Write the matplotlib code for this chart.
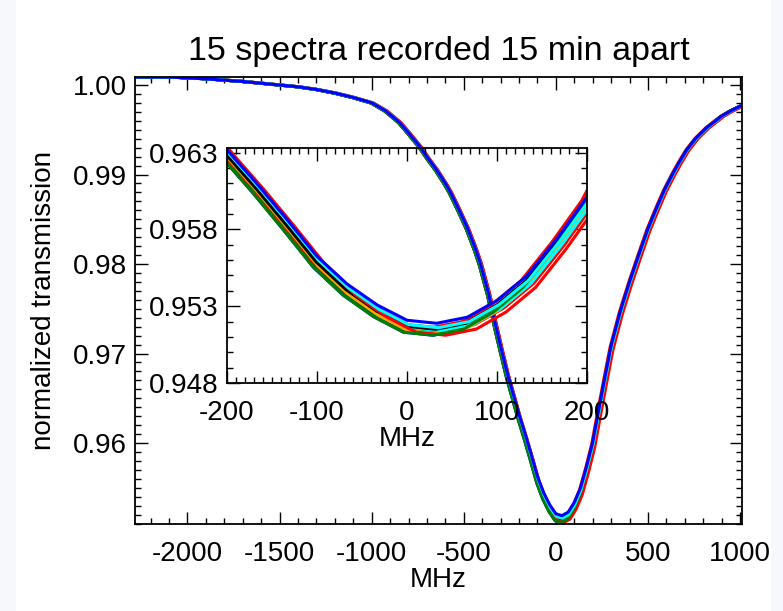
import numpy as np
import matplotlib
matplotlib.use("Agg")
import matplotlib.pyplot as plt
from matplotlib.ticker import MultipleLocator, FormatStrFormatter
from matplotlib.patches import Rectangle

plt.rcParams['font.family'] = ['Liberation Sans', 'DejaVu Sans']
plt.rcParams['axes.unicode_minus'] = False

# frequency grid (MHz) and mean transmission
freq = np.array([-2285, -2100, -1900, -1700, -1500, -1400, -1300, -1200,
                 -1100, -1000, -925, -850, -800, -740, -700, -650, -600,
                 -575, -530, -483, -440, -412, -367, -333, -300, -267, -233,
                 -200, -167, -133, -100, -67, -33, 0, 33, 67, 100, 133, 167,
                 200, 233, 267, 300, 350, 400, 456, 500, 548, 590, 635, 670,
                 711, 760, 819, 900, 950, 1010])
transmission = np.array([1.0009, 1.0009, 1.0007, 1.0004, 1.0000, 0.9998,
                         0.9995, 0.9991, 0.9986, 0.9980, 0.9971, 0.9958,
                         0.9946, 0.9931, 0.9919, 0.9905, 0.9889, 0.9880,
                         0.9861, 0.9840, 0.9817, 0.9800, 0.9766, 0.9734,
                         0.9705, 0.9677, 0.9652, 0.9628, 0.9606, 0.9582,
                         0.9558, 0.9540, 0.9526, 0.9516, 0.9514, 0.9518,
                         0.9529, 0.9545, 0.9570, 0.9597, 0.9634, 0.9671,
                         0.9706, 0.9745, 0.9778, 0.9812, 0.9838, 0.9862,
                         0.9882, 0.9900, 0.9913, 0.9927, 0.9940, 0.9952,
                         0.9965, 0.9971, 0.9977])

# the 15 spectra: colour, frequency drift (MHz) and relative line depth
spectrum_colors = ['red', 'green', 'black', 'orange', 'cyan', 'blue', 'red',
                   'green', 'orange', 'cyan', 'black', 'red', 'green',
                   'cyan', 'blue']
spectrum_shift = [8, -3, 0, 3, 4, -4, -6, -2, 1, 5, -1, 10, -4, 2, 0]
spectrum_depth = [1.000, 1.004, 0.996, 1.002, 0.998, 1.006, 0.996, 1.000,
                  1.004, 1.000, 0.998, 1.006, 1.006, 0.996, 0.990]

main_yticks = [0.96, 0.97, 0.98, 0.99, 1.00]
inset_yticks = [0.948, 0.953, 0.958, 0.963]


def style_axes(ax, fmt):
    ax.tick_params(which='both', direction='in', top=True, right=True,
                   width=1.0, labelsize=20, colors='black')
    ax.tick_params(which='major', length=9)
    ax.tick_params(which='minor', length=4.5)
    ax.yaxis.set_major_formatter(FormatStrFormatter(fmt))
    for s in ax.spines.values():
        s.set_linewidth(1.3)


def draw_spectra(ax):
    for c, sh, d in zip(spectrum_colors, spectrum_shift, spectrum_depth):
        ax.plot(freq + sh, 1 - (1 - transmission) * d, color=c, lw=2.2,
                solid_joinstyle='round')


fig = plt.figure(figsize=(7.83, 6.11), dpi=100)
fig.patch.set_facecolor('#f6f8fb')
fig.patches.append(Rectangle((16 / 783, 0), 754 / 783, 1,
                             transform=fig.transFigure, color='white',
                             zorder=-10))

ax = fig.add_axes([0.1724, 0.1424, 0.7752, 0.7316])
draw_spectra(ax)
ax.set_xlim(-2285, 1010)
ax.set_ylim(0.95095, 1.0009)
ax.xaxis.set_major_locator(MultipleLocator(500))
ax.xaxis.set_minor_locator(MultipleLocator(100))
ax.set_yticks(main_yticks)
ax.yaxis.set_minor_locator(MultipleLocator(0.001))
style_axes(ax, '%.2f')
ax.tick_params(axis='x', pad=12)
ax.tick_params(axis='y', pad=6)
ax.set_xlabel("MHz", fontsize=20, labelpad=0)
ax.set_ylabel("normalized transmission", fontsize=20, labelpad=11)
ax.set_title("15 spectra recorded 15 min apart", fontsize=24.5, pad=12)

inset = fig.add_axes([0.2899, 0.3732, 0.4598, 0.3846])
inset.patch.set_alpha(0)
draw_spectra(inset)
inset.set_xlim(-200, 200)
inset.set_ylim(0.948, 0.9633)
inset.xaxis.set_major_locator(MultipleLocator(100))
inset.xaxis.set_minor_locator(MultipleLocator(10))
inset.set_yticks(inset_yticks)
inset.yaxis.set_minor_locator(MultipleLocator(0.001))
style_axes(inset, '%.3f')
inset.tick_params(axis='x', pad=12)
inset.tick_params(axis='y', pad=6)
inset.set_xlabel("MHz", fontsize=20, labelpad=0)

fig.savefig("out.png", dpi=100, facecolor=fig.get_facecolor())
